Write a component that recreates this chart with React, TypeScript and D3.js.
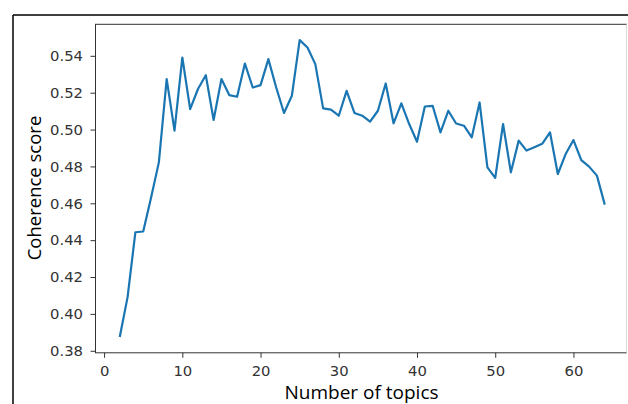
import React, { useRef, useEffect } from 'react'
import { select, scaleLinear, axisLeft, axisBottom, line, format } from 'd3'

// number of topics tried (2..64) and coherence
const topics = [2, 3, 4, 5, 6, 7, 8, 9, 10, 11, 12, 13, 14, 15, 16, 17, 18, 19, 20, 21, 22, 23, 24, 25, 26, 27, 28, 29, 30, 31, 32, 33,
    34, 35, 36, 37, 38, 39, 40, 41, 42, 43, 44, 45, 46, 47, 48, 49, 50, 51, 52, 53, 54, 55, 56, 57, 58, 59, 60, 61, 62, 63, 64]
const coherence = [0.3875, 0.4091, 0.4443, 0.4447, 0.4630, 0.4822, 0.5274, 0.4994, 0.5391, 0.5111, 0.5220, 0.5295, 0.5052,
    0.5274, 0.5187, 0.5178, 0.5358, 0.5228, 0.5241, 0.5382, 0.5228, 0.5090, 0.5183, 0.5485, 0.5445, 0.5355, 0.5115, 0.5108,
    0.5075, 0.5210, 0.5090, 0.5075, 0.5043, 0.5102, 0.5250, 0.5034, 0.5142, 0.5030, 0.4934, 0.5125, 0.5129, 0.4985, 0.5102,
    0.5033, 0.5021, 0.4958, 0.5147, 0.4795, 0.4738, 0.5030, 0.4768, 0.4940, 0.4886, 0.4904, 0.4923, 0.4985, 0.4759, 0.4867,
    0.4943, 0.4834, 0.4799, 0.4750, 0.4593]
const xTicks = [0, 10, 20, 30, 40, 50, 60]
const yTicks = [0.38, 0.40, 0.42, 0.44, 0.46, 0.48, 0.50, 0.52, 0.54]

const W = 628
const H = 404
const tickFont = '"DejaVu Sans", sans-serif'
const labelFont = '"Open Sans", sans-serif'

function App() {
    const svgRef = useRef<SVGSVGElement>(null)

    useEffect(() => {
        const svg = select(svgRef.current)

        const xScale = scaleLinear()
            .domain([-1.1, 67.1]) // matplotlib 5% margins
            .range([95.5, 629])
        const yScale = scaleLinear()
            .domain([0.3789, 0.5571])
            .range([352.8, 24.3])

        const xAxis = axisBottom(xScale)
            .tickValues(xTicks)
            .tickSize(5)
            .tickPadding(7.5)
            .tickFormat(format('d'))
        svg.select<SVGGElement>('.x-axis')
            .attr('transform', `translate(0,${yScale.range()[0]})`)
            .call(xAxis)

        const yAxis = axisLeft(yScale)
            .tickValues(yTicks)
            .tickSize(5)
            .tickPadding(7.5)
            .tickFormat(format('.2f'))
        svg.select<SVGGElement>('.y-axis')
            .attr('transform', `translate(${xScale.range()[0]},0)`)
            .call(yAxis)

        svg.selectAll('.domain').remove()
        svg.selectAll('.tick line').attr('stroke', '#333').attr('stroke-width', 1)
        svg.selectAll('.tick text')
            .attr('fill', '#333')
            .style('font-family', tickFont)
            .style('font-size', '14.8px')

        const myLine = line<number>()
            .x((d, i) => xScale(topics[i]))
            .y(d => yScale(d))

        svg.selectAll('.line')
            .data([coherence])
            .join('path')
            .attr('class', 'line')
            .attr('d', myLine)
            .attr('fill', 'none')
            .attr('stroke', '#1a76b2')
            .attr('stroke-width', 2.2)
            .attr('stroke-linejoin', 'round')
    }, [])

    return (
        <svg ref={svgRef} width={W} height={H}
            style={{ position: 'absolute', left: 0, top: 0, background: '#fff' }}>
            {/* outer frame of the screenshot */}
            <line x1={13} y1={15} x2={W} y2={15} stroke="#000" strokeWidth={1.5} />
            <line x1={13} y1={15} x2={13} y2={H} stroke="#000" strokeWidth={1.5} />
            {/* axes box */}
            <rect x={95.5} y={24.3} width={531} height={328.5} fill="none" stroke="#333" strokeWidth={1} />
            <line x1={626.5} y1={24.3} x2={626.5} y2={352.8} stroke="#ddd" strokeWidth={1} />
            <g className="x-axis" />
            <g className="y-axis" />
            <path className="line" />
            <text x={361.5} y={399} textAnchor="middle" fontFamily={labelFont} fontSize={19} fill="#000">
                Number of topics
            </text>
            <text transform="translate(41,188) rotate(-90)" textAnchor="middle" fontFamily={labelFont} fontSize={18.5} fill="#000">
                Coherence score
            </text>
        </svg>
    )
}

export default App
